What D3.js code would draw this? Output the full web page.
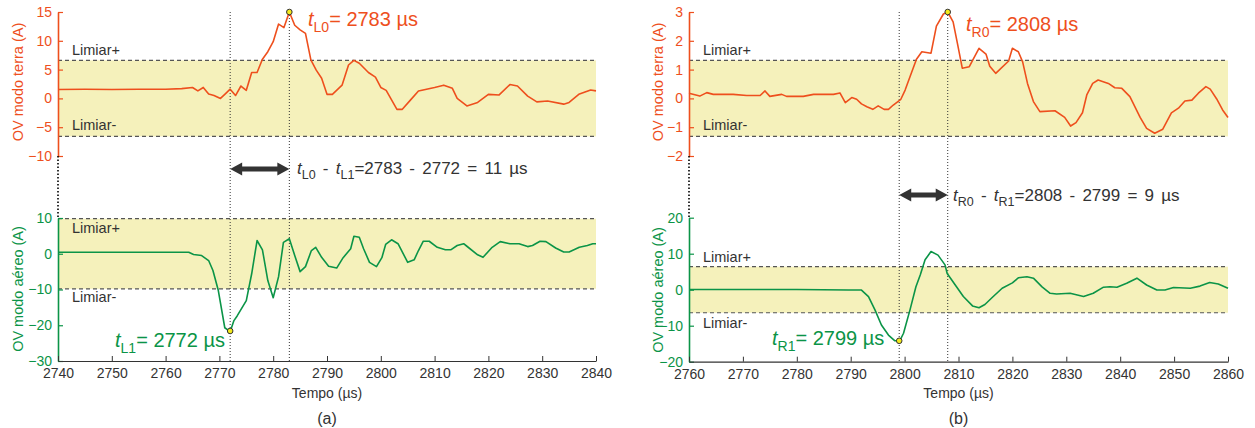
<!DOCTYPE html>
<html>
<head>
<meta charset="utf-8">
<script src="https://cdn.jsdelivr.net/npm/d3@7"></script>
<style>
  body { margin: 0; background: #fff; }
  svg { font-family: "Liberation Sans", Arial, sans-serif; }
</style>
</head>
<body>
<div id="graph"></div>
<script>
const W = 1255, H = 428;
const ORANGE = "#ee4f1d";
const GREEN = "#0b9447";
const BAND = "#f5f1bb";
const DARK = "#333";

// (a) terra mode
const aTerraTime = [2740, 2745, 2750, 2755, 2760, 2763, 2765, 2766, 2767, 2768, 2769, 2770.2, 2771, 2772, 2773, 2774, 2775, 2776, 2777, 2778, 2779, 2780, 2781, 2782, 2783, 2784, 2785, 2786, 2787, 2788, 2789, 2790, 2791, 2792.8, 2794, 2795, 2796, 2797.7, 2799, 2800, 2801, 2803, 2804, 2805.5, 2807, 2810, 2811.7, 2813.3, 2814.2, 2816, 2818, 2820, 2822, 2824, 2825.4, 2827.3, 2829, 2831, 2834, 2835, 2836.8, 2839, 2840];
const aTerraVal = [1.55, 1.6, 1.55, 1.6, 1.6, 1.7, 1.9, 1.3, 1.9, 0.76, 0.5, 0, 0.7, 1.6, 0.5, 2.15, 1.4, 4.5, 4.5, 6.8, 8.1, 9.85, 12.9, 12.3, 15, 12.7, 11.9, 11.3, 6.7, 4.9, 3.5, 0.7, 0.7, 2.3, 5.8, 6.6, 6.1, 4.5, 3.7, 1.9, 1.4, -1.9, -1.9, -0.3, 1.3, 1.9, 2.3, 1.75, 0, -1.3, -0.7, 0.7, 0.6, 2.4, 2.15, 0.4, -0.6, -0.45, -1.0, -0.7, 0.7, 1.45, 1.3];
// (a) aereo mode
const aAereoTime = [2740, 2750, 2760, 2764.3, 2765.2, 2766.7, 2768, 2768.8, 2769.8, 2771, 2772, 2772.7, 2773.3, 2775, 2776, 2777, 2778, 2779, 2780, 2781, 2781.9, 2783, 2784, 2785, 2786, 2787.1, 2787.9, 2789, 2790.3, 2791.8, 2793, 2794.4, 2795, 2796, 2796.8, 2797.9, 2799.2, 2800.2, 2800.9, 2802, 2803.2, 2805, 2806.2, 2807, 2807.9, 2809, 2810.5, 2812, 2813, 2814.2, 2815.4, 2816, 2818, 2819, 2820.7, 2822.2, 2824, 2825.7, 2827.3, 2828.2, 2829.6, 2830.7, 2832.5, 2834, 2835, 2836.9, 2838.4, 2839.4, 2840];
const aAereoVal = [0.4, 0.4, 0.4, 0.4, -0.2, -0.5, -1.9, -4.7, -10.3, -20.7, -21.8, -18.7, -17.4, -13.1, -5.6, 3.7, 1.1, -7.5, -12.3, -6.4, 3.2, 4.2, -0.5, -5, -3.6, 0.9, 1.8, -1, -3.5, -4, -1.1, 1.4, 4.9, 4.6, 1.4, -2.4, -3.6, -1.1, 2.6, 3.9, 2.8, -2.4, -1.7, 0.9, 3.5, 3.5, 1.8, 1.1, 1.1, 2.3, 2.8, 2.1, -0.3, -1, 1.8, 3.4, 2.8, 2.8, 2.0, 2.3, 3.5, 3.4, 1.6, 0.5, 0.5, 1.8, 2.3, 2.8, 2.8];

// (b) terra mode
const bTerraTime = [2760, 2762, 2763.3, 2764.5, 2768.2, 2770.7, 2773.2, 2774.1, 2775, 2777.2, 2778.1, 2781.2, 2783.1, 2786.8, 2788, 2789, 2790.2, 2791.1, 2792, 2793, 2794.1, 2795.1, 2796.2, 2797, 2797.9, 2799.3, 2800.1, 2801, 2802.2, 2803.2, 2804.9, 2805.9, 2807.2, 2808, 2809, 2809.8, 2810.7, 2812, 2813.8, 2815.1, 2815.8, 2816.9, 2819.3, 2820, 2821.1, 2821.9, 2822.8, 2823.9, 2825.1, 2827.9, 2829.7, 2830.8, 2831.8, 2833, 2833.8, 2834.9, 2835.9, 2837.8, 2839, 2840.3, 2841.8, 2843.7, 2844.9, 2846.4, 2847.9, 2849.5, 2850.8, 2852, 2853.3, 2854.5, 2855.9, 2856.7, 2857.9, 2859, 2860];
const bTerraVal = [0.18, 0.08, 0.2, 0.14, 0.14, 0.1, 0.1, 0.26, 0.07, 0.14, 0.07, 0.07, 0.14, 0.14, 0.19, -0.15, 0.03, -0.03, -0.19, -0.29, -0.38, -0.26, -0.38, -0.38, -0.23, -0.03, 0.29, 0.75, 1.36, 1.62, 1.57, 2.51, 2.93, 3.0, 2.66, 1.91, 1.05, 1.1, 1.74, 1.54, 1.12, 0.87, 1.3, 1.74, 1.62, 1.27, 0.52, -0.11, -0.46, -0.43, -0.66, -0.96, -0.84, -0.5, 0.12, 0.52, 0.64, 0.52, 0.37, 0.35, 0.06, -0.66, -1.04, -1.21, -1.07, -0.5, -0.34, -0.09, -0.06, 0.18, 0.41, 0.32, -0.02, -0.4, -0.66];
// (b) aereo mode
const bAereoTime = [2760, 2770, 2780, 2789.6, 2792, 2793.3, 2794.5, 2795.7, 2797, 2798.2, 2799.1, 2799.8, 2801, 2802.1, 2802.9, 2803.8, 2804.9, 2806.2, 2807.5, 2807.9, 2809.4, 2810.9, 2812.6, 2813.8, 2814.9, 2816.3, 2818.1, 2820, 2821.1, 2822.7, 2823.9, 2825.5, 2827, 2828.2, 2830.7, 2833.2, 2835, 2836.9, 2838.1, 2839.4, 2841.2, 2843.1, 2844.9, 2846.8, 2848.3, 2849.9, 2853, 2854.8, 2856.6, 2858.2, 2860];
const bAereoVal = [0.05, 0.05, 0.05, -0.1, -0.1, -1.9, -5.6, -9.8, -12.6, -14.2, -14.2, -12.1, -5.6, 0.8, 4.1, 8.3, 10.6, 9.6, 6.9, 4.5, 1.3, -1.9, -4.5, -5, -4.1, -2.1, 0.4, 1.9, 3.3, 3.6, 3.2, 0.8, -1, -1.2, -1, -1.9, -1, 0.7, 0.8, 0.7, 1.8, 3.2, 1.3, -0.1, -0.1, 0.6, 0.4, 1.0, 2.0, 1.6, 0.4];

const panels = [
  {
    xDomain: [2740, 2840], xRange: [58, 596], xTicks: d3.range(2740, 2841, 10), labelOff: 40,
    top: { domain: [-10, 15], range: [156, 12], ticks: [-10, -5, 0, 5, 10, 15], thr: 6.6, time: aTerraTime, val: aTerraVal, limY: [55, 130], labY: 82 },
    bot: { domain: [-30, 10], range: [361, 218], ticks: [-30, -20, -10, 0, 10], thr: 9.8, time: aAereoTime, val: aAereoVal, limY: [233, 302], labY: 289 },
    t0: 2783, t1: 2772, p0: 15, p1: -21.6,
    sub0: "L0", sub1: "L1", diff: "=2783 - 2772 = 11 µs", label: "(a)",
    t0Text: [308, 26], t1Text: [115, 347], arrowY: 169, diffY: 174, diffX: 297
  },
  {
    xDomain: [2760, 2860], xRange: [689, 1228], xTicks: d3.range(2760, 2861, 10), labelOff: 31,
    top: { domain: [-2, 3], range: [156, 12], ticks: [-2, -1, 0, 1, 2, 3], thr: 1.32, time: bTerraTime, val: bTerraVal, limY: [55, 130], labY: 82 },
    bot: { domain: [-20, 20], range: [361.7, 217.7], ticks: [-20, -10, 0, 10, 20], thr: 6.4, time: bAereoTime, val: bAereoVal, limY: [262, 328], labY: 290 },
    t0: 2808, t1: 2799, p0: 3.0, p1: -14.2,
    sub0: "R0", sub1: "R1", diff: "=2808 - 2799 = 9 µs", label: "(b)",
    t0Text: [966, 31], t1Text: [772, 345], arrowY: 195, diffY: 201, diffX: 953
  }
];

const svg = d3.select("#graph").append("svg")
  .attr("width", W).attr("height", H);

function subText(g, x, y, sub, rest, size, color) {
  const t = g.append("text").attr("x", x).attr("y", y)
    .attr("fill", color).style("font-size", size + "px");
  t.append("tspan").attr("font-style", "italic").text("t");
  t.append("tspan").attr("dy", size * 0.28).style("font-size", (size * 0.7) + "px").text(sub);
  t.append("tspan").attr("dy", -size * 0.28).text(rest);
  return t;
}

function drawArea(p, x, cfg, color, axisLabel) {
  const y = d3.scaleLinear().domain(cfg.domain).range(cfg.range);
  const x0 = p.xRange[0], x1 = p.xRange[1];
  // threshold band
  svg.append("rect")
    .attr("x", x0).attr("width", x1 - x0)
    .attr("y", y(cfg.thr)).attr("height", y(-cfg.thr) - y(cfg.thr))
    .attr("fill", BAND);
  [cfg.thr, -cfg.thr].forEach((v) => {
    svg.append("line")
      .attr("x1", x0).attr("x2", x1).attr("y1", y(v)).attr("y2", y(v))
      .attr("stroke", "#555").attr("stroke-width", 1.2)
      .attr("stroke-dasharray", "4,3");
  });
  // y axis
  const ax = svg.append("g")
    .attr("transform", "translate(" + x0 + ",0)")
    .call(d3.axisLeft(y).tickValues(cfg.ticks).tickFormat(d3.format("d"))
      .tickSizeInner(-5).tickSizeOuter(0).tickPadding(6));
  ax.select(".domain").attr("stroke", color).attr("stroke-width", 1.6);
  ax.selectAll(".tick line").attr("stroke", color).attr("stroke-width", 1.2);
  ax.selectAll(".tick text").attr("fill", color)
    .style("font-size", "14px").style("font-family", "Liberation Sans, Arial, sans-serif");
  svg.append("text")
    .attr("transform", "translate(" + (x0 - p.labelOff + 5) + "," + cfg.labY + ") rotate(-90)")
    .attr("text-anchor", "middle").attr("fill", color)
    .style("font-size", "14.5px").text(axisLabel);
  // limiar labels
  svg.append("text").attr("x", x0 + 14).attr("y", cfg.limY[0])
    .attr("fill", DARK).style("font-size", "14.5px").text("Limiar+");
  svg.append("text").attr("x", x0 + 14).attr("y", cfg.limY[1])
    .attr("fill", DARK).style("font-size", "14.5px").text("Limiar-");
  return y;
}

panels.forEach((p) => {
  const x = d3.scaleLinear().domain(p.xDomain).range(p.xRange);
  const yTop = drawArea(p, x, p.top, ORANGE, "OV modo terra (A)");
  const yBot = drawArea(p, x, p.bot, GREEN, "OV modo aéreo (A)");

  // broken axis link
  svg.append("line")
    .attr("x1", p.xRange[0]).attr("x2", p.xRange[0])
    .attr("y1", p.top.range[0]).attr("y2", p.bot.range[1])
    .attr("stroke", "#000").attr("stroke-width", 1.6).attr("stroke-dasharray", "1.5,2");

  // x axis
  const xa = svg.append("g")
    .attr("transform", "translate(0," + p.bot.range[0] + ")")
    .call(d3.axisBottom(x).tickValues(p.xTicks).tickFormat(d3.format("d"))
      .tickSizeInner(-5).tickSizeOuter(0).tickPadding(7));
  xa.select(".domain").attr("stroke", DARK).attr("stroke-width", 1.2);
  xa.selectAll(".tick line").attr("stroke", DARK);
  xa.selectAll(".tick text").attr("fill", DARK)
    .style("font-size", "14px").style("font-family", "Liberation Sans, Arial, sans-serif");
  const mid = (p.xRange[0] + p.xRange[1]) / 2;
  svg.append("text").attr("x", mid).attr("y", 398).attr("text-anchor", "middle")
    .attr("fill", DARK).style("font-size", "14px").text("Tempo (µs)");
  svg.append("text").attr("x", mid).attr("y", 424).attr("text-anchor", "middle")
    .attr("fill", DARK).style("font-size", "16px").text(p.label);

  // vertical markers
  [p.t0, p.t1].forEach((t) => {
    svg.append("line")
      .attr("x1", x(t)).attr("x2", x(t))
      .attr("y1", p.top.range[1]).attr("y2", p.bot.range[0])
      .attr("stroke", DARK).attr("stroke-width", 1).attr("stroke-dasharray", "1,2");
  });

  // series
  const line = (yS) => d3.line().x((d) => x(d[0])).y((d) => yS(d[1]));
  svg.append("path")
    .datum(d3.zip(p.top.time, p.top.val))
    .attr("d", line(yTop)).attr("fill", "none")
    .attr("stroke", ORANGE).attr("stroke-width", 1.6).attr("stroke-linejoin", "round");
  svg.append("path")
    .datum(d3.zip(p.bot.time, p.bot.val))
    .attr("d", line(yBot)).attr("fill", "none")
    .attr("stroke", GREEN).attr("stroke-width", 1.6).attr("stroke-linejoin", "round");

  // peak points
  [[x(p.t0), yTop(p.p0)], [x(p.t1), yBot(p.p1)]].forEach((c) => {
    svg.append("circle").attr("cx", c[0]).attr("cy", c[1]).attr("r", 2.8)
      .attr("fill", "#f3e91c").attr("stroke", "#333").attr("stroke-width", 1);
  });

  subText(svg, p.t0Text[0], p.t0Text[1], p.sub0, "= " + p.t0 + " µs", 20, ORANGE);
  subText(svg, p.t1Text[0], p.t1Text[1], p.sub1, "= " + p.t1 + " µs", 20, GREEN);

  // double arrow
  const ax1 = x(p.t1), ax2 = x(p.t0), ay = p.arrowY, hl = 12, hw = 6.5, sw = 2.5;
  svg.append("path")
    .attr("d", "M" + ax1 + "," + ay + " L" + (ax1 + hl) + "," + (ay - hw) + " L" + (ax1 + hl) + "," + (ay - sw) +
      " L" + (ax2 - hl) + "," + (ay - sw) + " L" + (ax2 - hl) + "," + (ay - hw) + " L" + ax2 + "," + ay +
      " L" + (ax2 - hl) + "," + (ay + hw) + " L" + (ax2 - hl) + "," + (ay + sw) + " L" + (ax1 + hl) + "," + (ay + sw) +
      " L" + (ax1 + hl) + "," + (ay + hw) + " Z")
    .attr("fill", DARK);

  const dt = svg.append("text").attr("x", p.diffX).attr("y", p.diffY)
    .attr("fill", DARK).style("font-size", "17px").style("word-spacing", "2.5px");
  dt.append("tspan").attr("font-style", "italic").text("t");
  dt.append("tspan").attr("dy", 5).style("font-size", "12.5px").text(p.sub0);
  dt.append("tspan").attr("dy", -5).text(" - ");
  dt.append("tspan").attr("font-style", "italic").text("t");
  dt.append("tspan").attr("dy", 5).style("font-size", "12.5px").text(p.sub1);
  dt.append("tspan").attr("dy", -5).text(p.diff);
});
</script>
</body>
</html>
